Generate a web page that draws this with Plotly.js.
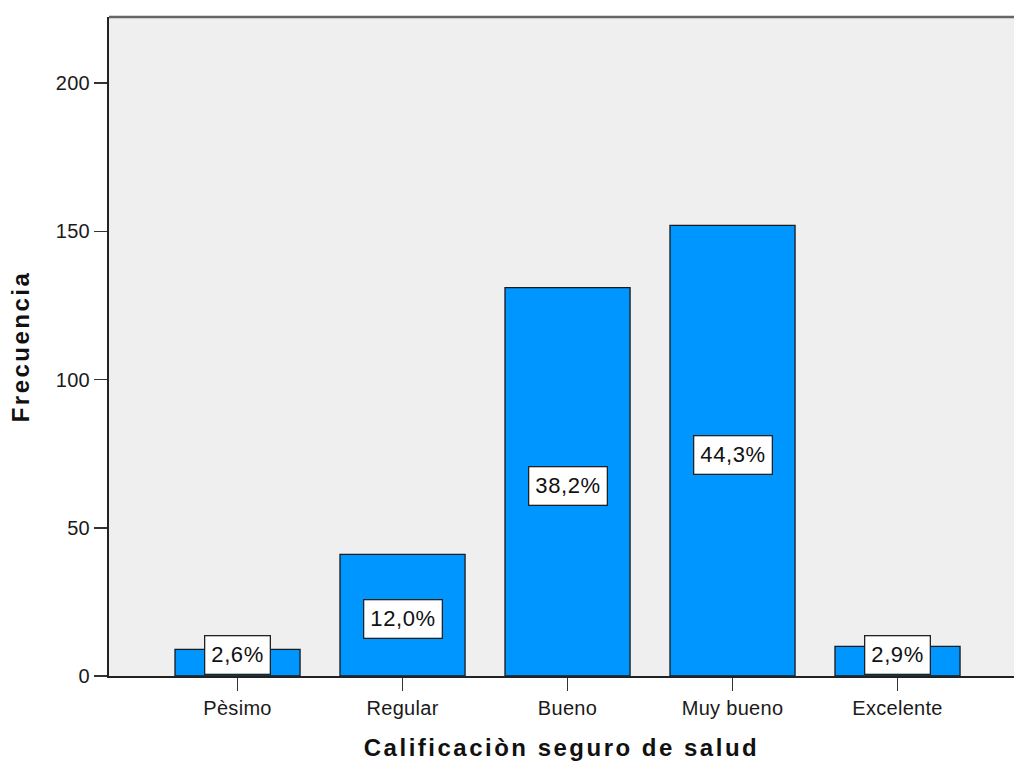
<!DOCTYPE html>
<html>
<head>
<meta charset="utf-8">
<script src="https://cdn.plot.ly/plotly-3.0.1.min.js"></script>
<style>
  html, body { margin: 0; padding: 0; background: #ffffff; }
  #chart { width: 1014px; height: 765px; }
  .xtitle, .ytitle { letter-spacing: 2.5px; }
  .xtick text, .ytick text { letter-spacing: 0.3px; }
  .annotation-text { letter-spacing: 0.6px; }
</style>
</head>
<body>
<div id="chart"></div>
<script>
// ---- data ----
const categories = ["Pèsimo", "Regular", "Bueno", "Muy bueno", "Excelente"];
const frequencies = [9, 41, 131, 152, 10];
const percentLabels = ["2,6%", "12,0%", "38,2%", "44,3%", "2,9%"];
const yTickValues = [0, 50, 100, 150, 200];
const xTitle = "Calificaciòn seguro de salud";
const yTitle = "Frecuencia";

// ---- styling ----
const barColor = "#0096ff";
const fontFamily = "'Liberation Sans', Arial, sans-serif";
const boxHalfPx = 20;       // half height of percentage box in pixels
const yRange = [0, 222.3];
const plotHeightPx = 765 - 17 - 89;
const pxPerUnit = plotHeightPx / (yRange[1] - yRange[0]);

const trace = {
  type: "bar",
  x: categories,
  y: frequencies,
  width: 0.758,
  marker: { color: barColor, line: { color: "#1a1a1a", width: 1.3 } },
  hoverinfo: "skip"
};

const annotations = categories.map((c, i) => {
  const v = frequencies[i];
  const fitsInside = (v / 2) * pxPerUnit - 4 >= boxHalfPx;
  return {
    x: c,
    y: fitsInside ? v / 2 : 0,
    xref: "x", yref: "y",
    yanchor: fitsInside ? "middle" : "bottom",
    yshift: fitsInside ? -4 : 1,
    text: percentLabels[i],
    showarrow: false,
    font: { family: fontFamily, size: 22, color: "#111" },
    bgcolor: "#ffffff",
    bordercolor: "#222",
    borderwidth: 1.3,
    borderpad: 6,
    height: 25
  };
});

const layout = {
  width: 1014,
  height: 765,
  margin: { l: 109, r: 0, t: 17, b: 89, pad: 0 },
  paper_bgcolor: "#ffffff",
  plot_bgcolor: "#efefef",
  font: { family: fontFamily, color: "#222" },
  showlegend: false,
  bargap: 0,
  xaxis: {
    type: "category",
    range: [-0.779, 4.706],
    showline: true, linecolor: "#222", linewidth: 2,
    ticks: "outside", ticklen: 13, tickwidth: 1.6, tickcolor: "#333",
    tickfont: { family: fontFamily, size: 20, color: "#1a1a1a" },
    showgrid: false, zeroline: false,
    fixedrange: true,
    title: { text: xTitle, font: { family: fontFamily, size: 24, color: "#111", weight: "bold" }, standoff: 21 }
  },
  yaxis: {
    range: yRange,
    tickvals: yTickValues,
    showline: true, linecolor: "#222", linewidth: 2,
    ticks: "outside", ticklen: 13, tickwidth: 1.6, tickcolor: "#333",
    tickfont: { family: fontFamily, size: 20, color: "#1a1a1a" },
    showgrid: false, zeroline: false,
    fixedrange: true,
    title: { text: yTitle, font: { family: fontFamily, size: 24, color: "#111", weight: "bold" }, standoff: 19 }
  },
  shapes: [{
    type: "line", xref: "paper", yref: "paper",
    x0: 0, x1: 1, y0: 1, y1: 1,
    line: { color: "#666", width: 2.5 }
  }],
  annotations: annotations
};

Plotly.newPlot("chart", [trace], layout, { displayModeBar: false, staticPlot: true });
</script>
</body>
</html>
